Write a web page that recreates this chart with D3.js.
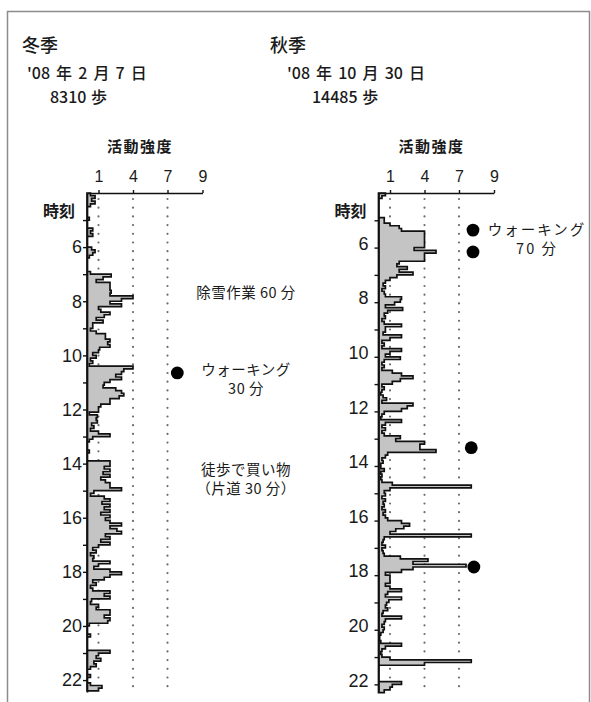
<!DOCTYPE html>
<html>
<head>
<meta charset="utf-8">
<script src="https://cdn.jsdelivr.net/npm/d3@7"></script>
<style>
  body { margin: 0; background: #fff; }
  svg { display: block; }
  text { fill: #1a1a1a; }
</style>
</head>
<body>
<svg id="chart" width="591" height="702"></svg>
<script>
"use strict";

// 0.1 h bins, starting 4:00
const binHours = 0.1;
const seriesStart = 4;
const levelTicks = [1, 4, 7, 9];
const guideLevels = [1, 4, 7];
const hourTicks = d3.range(5, 23);

// 冬季 '08-02-07 activity intensity, one row per hour (4時 .. 22時)
const winterIntensity = [
  0.3, 0.7, 0.4, 0.7, 0.3, 0, 0, 0, 0, 0.2,
  0, 0, 0, 0.5, 0.3, 0.5, 0, 0, 0, 0,
  0.4, 0.7, 0.5, 0.2, 0, 0, 0, 0, 0, 0.3,
  2.1, 1.4, 0.8, 2.0, 2.0, 2.0, 2.1, 2.0, 4.0, 3.0,
  2.0, 3.0, 1.0, 1.2, 2.0, 1.5, 0.8, 1.4, 0.5, 0.5,
  0.3, 0.8, 1.6, 1.6, 2.0, 1.8, 2.0, 1.1, 1.0, 0.5,
  0.8, 0.3, 0.5, 0.2, 4.0, 3.2, 3.0, 2.5, 3.0, 2.0,
  1.5, 1.4, 2.5, 3.0, 3.2, 2.8, 2.0, 2.0, 1.2, 1.0,
  1.0, 0.2, 0.9, 0.8, 0.9, 0.4, 0.6, 0.3, 1.0, 2.0,
  0.5, 0.2, 0, 0, 0, 0.2, 0, 0, 0, 2.0,
  2.0, 1.5, 2.0, 1.4, 2.0, 1.2, 1.6, 2.0, 2.0, 3.0,
  0.6, 0.3, 1.5, 2.0, 1.3, 2.0, 1.5, 2.0, 1.2, 2.0,
  1.6, 2.0, 3.0, 2.0, 2.6, 3.0, 1.6, 2.0, 1.2, 2.0,
  1.0, 0.5, 0.8, 0.3, 0.6, 0.5, 2.0, 1.0, 0.6, 2.0,
  3.0, 2.0, 1.5, 0.5, 0.8, 0.3, 0.5, 2.0, 1.5, 2.0,
  0.4, 0.3, 1.0, 0.8, 2.0, 2.0, 1.5, 2.0, 1.8, 0.2,
  0, 0, 0, 0.3, 0, 0, 0, 0, 0, 2.0,
  1.0, 0.8, 1.2, 0.6, 0.8, 0.3, 0, 0, 0.3, 0,
  0, 0.3, 1.3, 1.0
];

// 秋季 '08-10-30
const autumnIntensity = [
  0.6, 0.3, 0, 0, 0, 0, 0, 0, 0, 0.5,
  0.5, 1.0, 1.8, 2.0, 4.0, 4.0, 4.0, 4.0, 4.0, 4.0,
  3.1, 5.0, 4.0, 4.0, 4.0, 1.8, 1.6, 2.5, 1.8, 3.0,
  1.6, 1.0, 0.6, 0.4, 0.6, 0.3, 0.5, 0.6, 2.0, 1.9,
  1.4, 0.6, 2.1, 0.8, 0.5, 0.6, 0.3, 0.5, 2.0, 0.6,
  0.6, 0.4, 2.0, 1.0, 0.3, 0.5, 0.3, 2.0, 1.0, 0.6,
  1.9, 0.5, 0.3, 0.5, 0.3, 1.2, 2.0, 3.0, 1.9, 1.2,
  0.3, 0.5, 0.3, 0.2, 0.4, 0.7, 0.3, 3.0, 2.5, 2.0,
  0.5, 0.3, 0.2, 2.0, 0.6, 0.3, 0.6, 0.3, 0.5, 1.9,
  1.5, 4.0, 3.6, 3.6, 5.0, 0.8, 0.6, 0.3, 0.4, 0.2,
  0.2, 0.5, 0.2, 0.3, 0.2, 0.3, 1.2, 7.7, 1.0, 0.5,
  0.6, 0.3, 0.6, 0.4, 0.5, 0.3, 0.6, 0.4, 0.6, 0.8,
  2.0, 2.7, 2.2, 1.5, 1.0, 7.7, 0.5, 0.4, 0.3, 0.6,
  0.3, 0.4, 0.5, 1.9, 4.3, 3.0, 7.4, 3.0, 2.0, 0.6,
  1.0, 1.0, 1.0, 0.6, 1.0, 2.0, 0.8, 0.6, 2.0, 0.9,
  0.7, 0.6, 0.8, 0.4, 0.3, 2.0, 0.6, 0.5, 0.3, 0.5,
  0.4, 0.2, 0.1, 0.1, 0.2, 2.0, 0.6, 0.3, 0.2, 0.3,
  1.0, 7.7, 4.0, 0, 0, 0, 0, 0, 0, 2.0,
  1.2, 1.0, 0.5
];

// walking markers (hour, intensity level)
const winterDots = [{hour: 10.65, level: 7.56}];
const autumnDots = [
  {hour: 5.36, level: 7.8},
  {hour: 6.16, level: 7.8},
  {hour: 13.33, level: 7.7},
  {hour: 17.7, level: 7.85}
];

const winterNotes = [
  {hour: 7.7, lines: ["除雪作業 60 分"]},
  {hour: 10.54, lines: ["ウォーキング", "30 分"]},
  {hour: 14.24, lines: ["徒歩で買い物", "（片道 30 分）"]}
];
const autumnNotes = [
  {hour: 5.36, lines: ["ウォーキング", "70 分"]}
];

const svg = d3.select("#chart");
const jp = "'Noto Sans CJK JP', 'Noto Sans', sans-serif";
const num = "'Liberation Sans Narrow', 'Liberation Sans', Arial, sans-serif";

// frame
svg.append("rect")
  .attr("x", 7.5).attr("y", 11.5)
  .attr("width", 582).attr("height", 720)
  .attr("fill", "none")
  .attr("stroke", "#8c8c8c")
  .attr("stroke-width", 1.5);

function drawPanel(cfg) {
  let g = svg.append("g");
  let x = d3.scaleLinear().domain([0, 7, 9])
    .range([cfg.left, cfg.left + 80.5, cfg.left + 115.5]);
  let y = d3.scaleLinear().domain(cfg.hours).range([193, 692]);

  // headings
  g.append("text")
    .attr("x", cfg.titleX).attr("y", 52)
    .style("font", "500 18px " + jp)
    .text(cfg.season);
  g.append("text")
    .attr("x", cfg.dateX).attr("y", 79)
    .style("font", "500 16px " + jp)
    .style("word-spacing", "2.5px")
    .text(cfg.date);
  g.append("text")
    .attr("x", cfg.stepsX).attr("y", 103)
    .style("font", "500 16px " + jp)
    .style("word-spacing", "1px")
    .text(cfg.steps);

  g.append("text")
    .attr("x", x(0) + 53).attr("y", 152)
    .attr("text-anchor", "middle")
    .style("font", "bold 15px " + jp)
    .style("letter-spacing", "1.5px")
    .text("活動強度");

  g.append("text")
    .attr("x", x(0) - 44).attr("y", 217)
    .style("font", "bold 16px " + jp)
    .text("時刻");

  // dotted guides
  g.selectAll(".guide")
    .data(guideLevels)
    .enter().append("line")
    .attr("class", "guide")
    .attr("x1", d => x(d)).attr("x2", d => x(d))
    .attr("y1", 199).attr("y2", 690)
    .attr("stroke", "#6d6d6d")
    .attr("stroke-width", 2.2)
    .attr("stroke-linecap", "round")
    .attr("stroke-dasharray", "0 8.7");

  // intensity profile
  let pts = cfg.values.map((v, i) => ({t: seriesStart + i * binHours, v: v}));
  pts.push({t: seriesStart + cfg.values.length * binHours, v: cfg.values[cfg.values.length - 1]});

  let area = d3.area()
    .curve(d3.curveStepBefore)
    .y(d => y(d.t))
    .x0(x(0))
    .x1(d => x(d.v));

  g.append("path")
    .attr("d", area(pts))
    .attr("fill", "#c4c4c4")
    .attr("stroke", "#111")
    .attr("stroke-width", 1.7);

  // axes
  let xAxis = d3.axisTop(x)
    .tickValues(levelTicks)
    .tickSize(3)
    .tickSizeOuter(0)
    .tickPadding(8);
  let gx = g.append("g")
    .attr("transform", "translate(0," + y(cfg.hours[0]) + ")")
    .call(xAxis);
  gx.selectAll("text").style("font", "16px " + num).attr("fill", "#1a1a1a");

  let yAxis = d3.axisLeft(y)
    .tickValues(hourTicks)
    .tickFormat(d => d % 2 ? "" : d)
    .tickSize(4)
    .tickSizeOuter(0)
    .tickPadding(cfg.labelPad);
  let gy = g.append("g")
    .attr("transform", "translate(" + x(0) + ",0)")
    .call(yAxis);
  gy.selectAll("text")
    .style("font", "18px " + num)
    .attr("fill", "#1a1a1a")
    .attr("dy", (0.32 * 18 + cfg.labelDy) + "px");

  [gx, gy].forEach(a => {
    a.select(".domain").attr("stroke", "#111").attr("stroke-width", 1.7);
    a.selectAll(".tick line").attr("stroke", "#111").attr("stroke-width", 1.4);
  });

  // walking markers
  g.selectAll(".dot")
    .data(cfg.dots)
    .enter().append("circle")
    .attr("class", "dot")
    .attr("cx", d => x(d.level))
    .attr("cy", d => y(d.hour))
    .attr("r", 6.4)
    .attr("fill", "#000");

  // notes
  cfg.notes.forEach(n => {
    n.lines.forEach((line, i) => {
      g.append("text")
        .attr("x", cfg.noteX)
        .attr("y", y(n.hour) + i * 19)
        .attr("dy", "0.36em")
        .attr("text-anchor", "middle")
        .style("font", "14.5px " + jp)
        .style("letter-spacing", cfg.noteSpacing + "px")
        .attr("fill", "#333")
        .text(line);
    });
  });
}

drawPanel({
  left: 87,
  hours: [4, 22.44],
  values: winterIntensity,
  dots: winterDots,
  notes: winterNotes,
  season: "冬季",
  date: "'08 年 2 月 7 日",
  steps: "8310 歩",
  titleX: 22,
  dateX: 27,
  stepsX: 50,
  noteX: 246,
  noteSpacing: 0.5,
  labelPad: 1,
  labelDy: 0
});

drawPanel({
  left: 378.5,
  hours: [4, 22.28],
  values: autumnIntensity,
  dots: autumnDots,
  notes: autumnNotes,
  season: "秋季",
  date: "'08 年 10 月 30 日",
  steps: "14485 歩",
  titleX: 270,
  dateX: 287,
  stepsX: 312,
  noteX: 537,
  noteSpacing: 2,
  labelPad: 6,
  labelDy: -4
});
</script>
</body>
</html>
